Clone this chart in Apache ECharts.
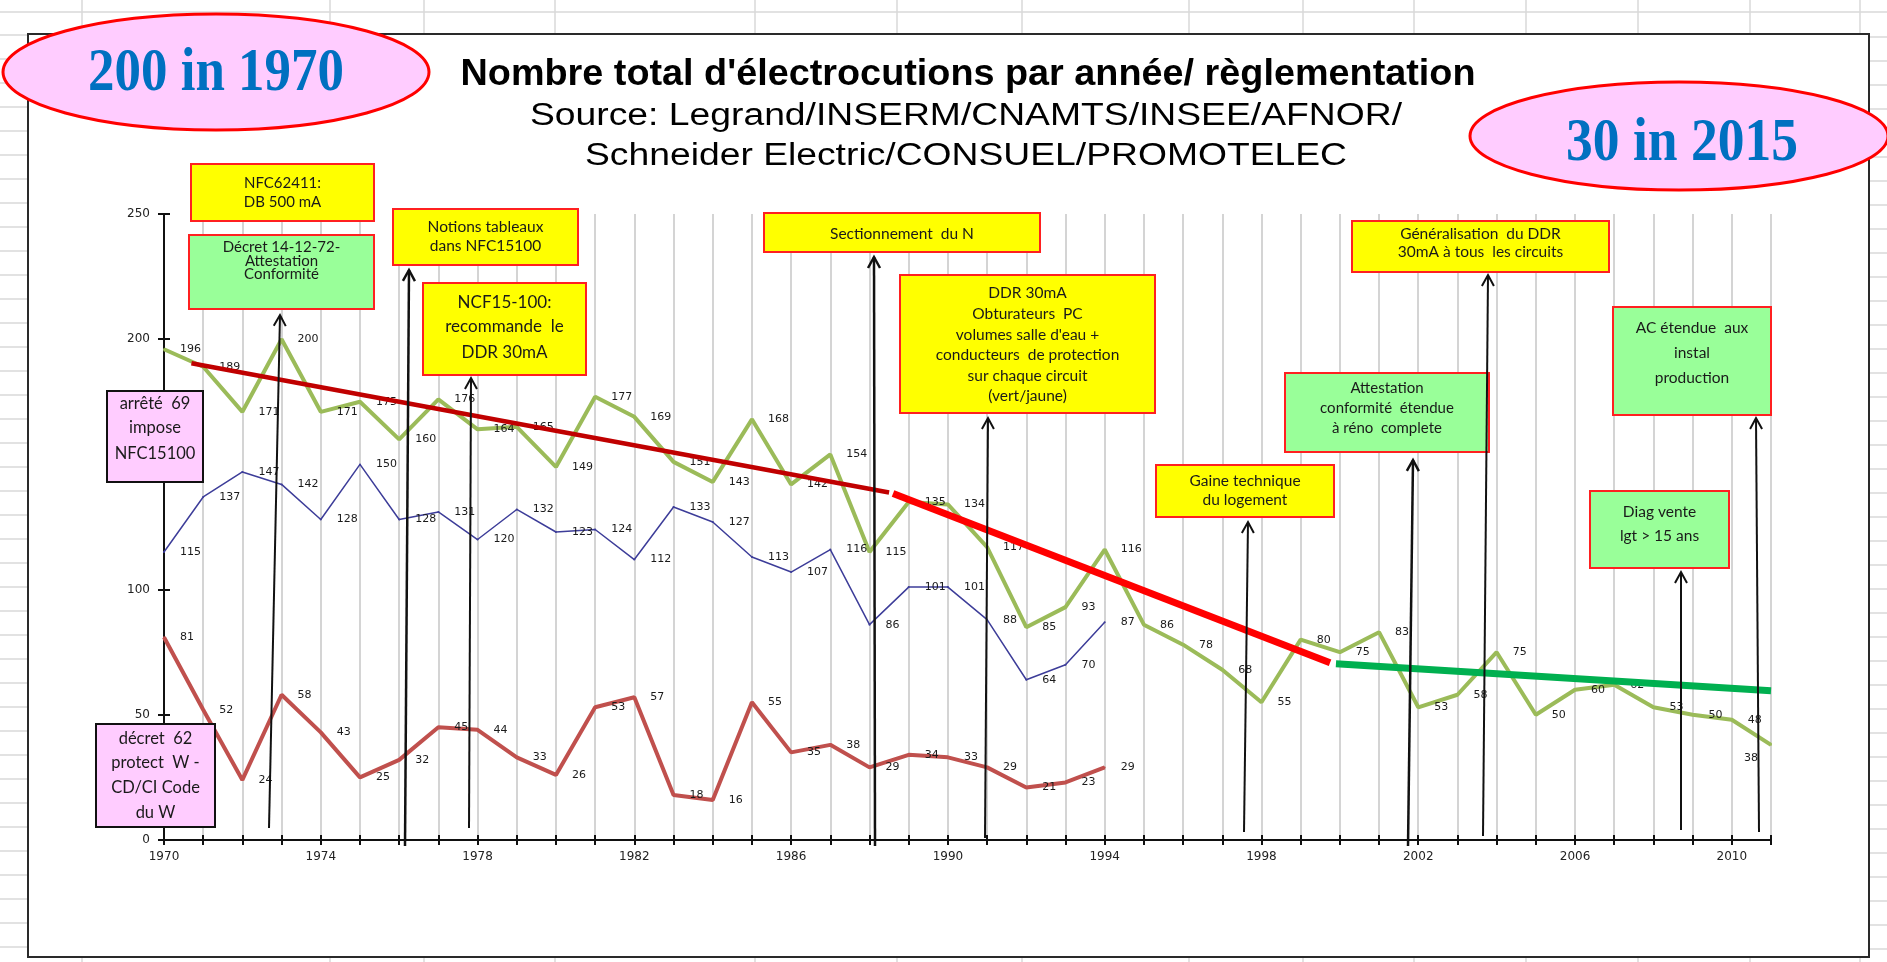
<!DOCTYPE html>
<html><head><meta charset="utf-8">
<script src="https://cdn.jsdelivr.net/npm/echarts@6/dist/echarts.min.js"></script>
<style>html,body{margin:0;padding:0;background:#fff}#c{width:1887px;height:962px}</style>
</head><body><div id="c"></div>
<script>
// ---------- DATA ----------
const years = [1970,1971,1972,1973,1974,1975,1976,1977,1978,1979,1980,1981,1982,1983,1984,1985,1986,1987,1988,1989,1990,1991,1992,1993,1994,1995,1996,1997,1998,1999,2000,2001,2002,2003,2004,2005,2006,2007,2008,2009,2010,2011];
const totalElectrocutions = [196,189,171,200,171,175,160,176,164,165,149,177,169,151,143,168,142,154,115,135,134,117,85,93,116,86,78,68,55,80,75,83,53,58,75,50,60,62,53,50,48,38];
const seriesBlue = [115,137,147,142,128,150,128,131,120,132,123,124,112,133,127,113,107,116,86,101,101,88,64,70,87];
const seriesRed = [81,52,24,58,43,25,32,45,44,33,26,53,57,18,16,55,35,38,29,34,33,29,21,23,29];
const trendOld = [[1970.7,190.4],[1988.5,138.8]];
const trendMid = [[1988.6,138.4],[1999.75,70.8]];
const trendNew = [[1999.9,70.4],[2011,59.6]];
const xLabelYears = [1970,1974,1978,1982,1986,1990,1994,1998,2002,2006,2010];
const yTicks = {min:0, max:250, interval:50};
const titleText = "Nombre total d'électrocutions par année/ règlementation";
const subtitle1 = "Source: Legrand/INSERM/CNAMTS/INSEE/AFNOR/";
const subtitle2 = "Schneider Electric/CONSUEL/PROMOTELEC";
const bubble1 = "200 in 1970";
const bubble2 = "30 in 2015";

// ---------- LAYOUT (annotations) ----------
const YEL='#ffff00', GRN='#99ff99', PNK='#ffccff';
const boxes = [
  {x:191,y:164,w:183,h:57,fill:YEL,stroke:'#ff2020',fs:15,lines:["NFC62411:","DB 500 mA"],ly:[183,202]},
  {x:189,y:235,w:185,h:74,fill:GRN,stroke:'#ff2020',fs:15,lines:["Décret 14-12-72-","Attestation","Conformité"],ly:[247,261,274]},
  {x:393,y:209,w:185,h:56,fill:YEL,stroke:'#ff2020',fs:15.5,lines:["Notions tableaux","dans NFC15100"],ly:[227,246]},
  {x:423,y:283,w:163,h:92,fill:YEL,stroke:'#ff2020',fs:17,lines:["NCF15-100:","recommande  le","DDR 30mA"],ly:[303,327,353]},
  {x:107,y:391,w:96,h:91,fill:PNK,stroke:'#111',fs:16.5,lines:["arrêté  69","impose","NFC15100"],ly:[404,428,454]},
  {x:96,y:724,w:119,h:103,fill:PNK,stroke:'#111',fs:16.5,lines:["décret  62","protect  W -","CD/CI Code","du W"],ly:[739,763,788,813]},
  {x:764,y:213,w:276,h:39,fill:YEL,stroke:'#ff2020',fs:15.5,lines:["Sectionnement  du N"],ly:[234]},
  {x:900,y:275,w:255,h:138,fill:YEL,stroke:'#ff2020',fs:15.5,lines:["DDR 30mA","Obturateurs  PC","volumes salle d'eau +","conducteurs  de protection","sur chaque circuit","(vert/jaune)"],ly:[293,314,335,355,376,396]},
  {x:1156,y:465,w:178,h:52,fill:YEL,stroke:'#ff2020',fs:15.5,lines:["Gaine technique","du logement"],ly:[481,500]},
  {x:1352,y:221,w:257,h:51,fill:YEL,stroke:'#ff2020',fs:15.5,lines:["Généralisation  du DDR","30mA à tous  les circuits"],ly:[234,252]},
  {x:1285,y:373,w:204,h:79,fill:GRN,stroke:'#ff2020',fs:15,lines:["Attestation","conformité  étendue","à réno  complete"],ly:[388,408,428]},
  {x:1613,y:307,w:158,h:108,fill:GRN,stroke:'#ff2020',fs:15.5,lines:["AC étendue  aux","instal","production"],ly:[328,353,378]},
  {x:1590,y:491,w:139,h:77,fill:GRN,stroke:'#ff2020',fs:15.5,lines:["Diag vente","lgt > 15 ans"],ly:[512,536]}
];
const arrows = [
  [269,828,280,315,2],[405,846,409,270,2.5],[469,828,471,378,2],[875,846,874,257,2.5],[985,838,988,418,2],
  [1244,832,1248,522,2],[1408,846,1413,460,2.5],[1483,836,1488,275,2],[1681,830,1681,572,2],[1759,832,1756,418,2]
];

// ---------- BUILD ----------
const mctx = document.createElement('canvas').getContext('2d');
function fitScale(weight, size, family, text, target){
  mctx.font = weight + ' ' + size + 'px ' + family;
  return target / mctx.measureText(text).width;
}
function txt(text, x, y, opts){
  const st = Object.assign({text:text, fill:'#111', align:'center', verticalAlign:'middle', textAlign:'center', textVerticalAlign:'middle'}, opts.style);
  const e = {type:'text', x:x, y:y, z:opts.z||20, silent:true, style:st};
  if (opts.scaleX) e.scaleX = opts.scaleX;
  if (opts.scaleY) e.scaleY = opts.scaleY;
  return e;
}
const G = [];
// spreadsheet background lines outside the frame
const sheetCol = '#d9d9d9';
G.push({type:'line', z:0, silent:true, shape:{x1:0,y1:12,x2:1887,y2:12}, style:{stroke:sheetCol,lineWidth:1.5}});
[82,330,424,555,755,897,1022,1189,1303,1414,1526,1638,1750,1860].forEach(x=>{
  G.push({type:'line', z:0, silent:true, shape:{x1:x,y1:0,x2:x,y2:33}, style:{stroke:sheetCol,lineWidth:1.5}});
  G.push({type:'line', z:0, silent:true, shape:{x1:x,y1:958,x2:x,y2:962}, style:{stroke:sheetCol,lineWidth:1.5}});
});
for (let y=37; y<957; y+=24){
  G.push({type:'line', z:0, silent:true, shape:{x1:1870,y1:y,x2:1887,y2:y}, style:{stroke:sheetCol,lineWidth:1.5}});
  G.push({type:'line', z:0, silent:true, shape:{x1:0,y1:y-2,x2:27,y2:y-2}, style:{stroke:sheetCol,lineWidth:1.5}});
}
// frame
G.push({type:'rect', z:1, silent:true, shape:{x:28,y:34,width:1841,height:923}, style:{fill:null, stroke:'#2a2a2a', lineWidth:2}});
// title
const tf = 'Liberation Sans';
G.push(txt(titleText, 968, 75, {scaleX: fitScale('bold',37,tf,titleText,1015), style:{fontSize:37,fontWeight:'bold',fontFamily:tf,fill:'#000'}}));
G.push(txt(subtitle1, 966, 116, {scaleX: fitScale('normal',31,tf,subtitle1,872), style:{fontSize:31,fontFamily:tf,fill:'#000'}}));
G.push(txt(subtitle2, 966, 156, {scaleX: fitScale('normal',31,tf,subtitle2,762), style:{fontSize:31,fontFamily:tf,fill:'#000'}}));
// bubbles
const sf = 'Liberation Serif';
G.push({type:'ellipse', z:12, silent:true, shape:{cx:216,cy:72,rx:213,ry:58}, style:{fill:PNK, stroke:'#ff0000', lineWidth:3}});
G.push(txt(bubble1, 216, 74, {z:13, scaleX: fitScale('bold',54,sf,bubble1,256), scaleY:1.12, style:{fontSize:54,fontWeight:'bold',fontFamily:sf,fill:'#0070c0'}}));
G.push({type:'ellipse', z:12, silent:true, shape:{cx:1679,cy:136,rx:209,ry:54}, style:{fill:PNK, stroke:'#ff0000', lineWidth:3}});
G.push(txt(bubble2, 1682, 144, {z:13, scaleX: fitScale('bold',54,sf,bubble2,232), scaleY:1.12, style:{fontSize:54,fontWeight:'bold',fontFamily:sf,fill:'#0070c0'}}));
// boxes
boxes.forEach(b=>{
  G.push({type:'rect', z:15, silent:true, shape:{x:b.x,y:b.y,width:b.w,height:b.h}, style:{fill:b.fill, stroke:b.stroke, lineWidth:2}});
  b.lines.forEach((l,i)=>{
    G.push(txt(l, b.x+b.w/2, b.ly[i], {z:16, style:{fontSize:b.fs, fontFamily:'Lato', fill:'#1a1a1a'}}));
  });
});
// arrows
arrows.forEach(a=>{
  const [x1,y1,x2,y2,w] = a;
  const dx=x2-x1, dy=y2-y1, L=Math.hypot(dx,dy), ux=dx/L, uy=dy/L, hl=11, hw=6;
  const bx=x2-ux*hl, by=y2-uy*hl, px=-uy, py=ux;
  G.push({type:'line', z:18, silent:true, shape:{x1,y1,x2,y2}, style:{stroke:'#111', lineWidth:w}});
  G.push({type:'polyline', z:18, silent:true, shape:{points:[[bx+px*hw,by+py*hw],[x2,y2],[bx-px*hw,by-py*hw]]}, style:{stroke:'#111', lineWidth:w, fill:null}});
});

function pairs(vals){ return vals.map((v,i)=>[years[i], v]); }
const lbl = {show:true, position:'right', distance:15, fontSize:11, fontFamily:'DejaVu Sans', color:'#1a1a1a'};
const greenData = pairs(totalElectrocutions).map((p,i,arr)=> i===arr.length-1 ? {value:p, label:{position:'left', distance:12, offset:[0,13]}} : p);

const axisCol = '#111';
const option = {
  animation:false,
  backgroundColor:'#ffffff',
  grid:{left:164, right:116, top:214, bottom:122, containLabel:false},
  xAxis:[
    {type:'value', min:years[0], max:years[years.length-1], interval:1, position:'bottom',
     axisLine:{show:true, onZero:false, lineStyle:{color:axisCol, width:2}},
     axisTick:{show:true, length:5, lineStyle:{color:axisCol, width:2}},
     axisLabel:{show:true, margin:11, fontSize:12, fontFamily:'DejaVu Sans', color:'#222', showMinLabel:true, showMaxLabel:true,
       formatter:v=> xLabelYears.indexOf(Math.round(v))>=0 ? String(Math.round(v)) : ''},
     splitLine:{show:true, lineStyle:{color:'#c6c6c6', width:1.5}}},
    {type:'value', min:years[0], max:years[years.length-1], interval:1, position:'bottom',
     axisLine:{show:false, onZero:false}, axisTick:{show:true, inside:true, length:5, lineStyle:{color:axisCol, width:2}},
     axisLabel:{show:false}, splitLine:{show:false}}
  ],
  yAxis:[
    {type:'value', min:yTicks.min, max:yTicks.max, interval:yTicks.interval, position:'left',
     axisLine:{show:true, onZero:false, lineStyle:{color:axisCol, width:2}},
     axisTick:{show:true, length:6, lineStyle:{color:axisCol, width:2}},
     axisLabel:{show:true, margin:14, fontSize:12, fontFamily:'DejaVu Sans', color:'#222'},
     splitLine:{show:false}},
    {type:'value', min:yTicks.min, max:yTicks.max, interval:yTicks.interval, position:'left',
     axisLine:{show:false, onZero:false}, axisTick:{show:true, inside:true, length:6, lineStyle:{color:axisCol, width:2}},
     axisLabel:{show:false}, splitLine:{show:false}}
  ],
  series:[
    {name:'Total', type:'line', xAxisIndex:0, yAxisIndex:0, data:greenData, z:3, symbol:'circle', symbolSize:2,
     itemStyle:{color:'#9bbb59'}, lineStyle:{color:'#9bbb59', width:4}, label:lbl},
    {name:'Série bleue', type:'line', xAxisIndex:0, yAxisIndex:0, data:pairs(seriesBlue), z:3, symbol:'circle', symbolSize:2,
     itemStyle:{color:'#3d3d99'}, lineStyle:{color:'#3d3d99', width:1.5}, label:lbl},
    {name:'Série rouge', type:'line', xAxisIndex:0, yAxisIndex:0, data:pairs(seriesRed), z:3, symbol:'circle', symbolSize:2,
     itemStyle:{color:'#c0504d'}, lineStyle:{color:'#c0504d', width:4}, label:lbl},
    {name:'Tendance 1', type:'line', data:trendOld, z:4, symbol:'none', lineStyle:{color:'#c00000', width:4.5}},
    {name:'Tendance 2', type:'line', data:trendMid, z:4, symbol:'none', lineStyle:{color:'#ff0000', width:7}},
    {name:'Tendance 3', type:'line', data:trendNew, z:4, symbol:'none', lineStyle:{color:'#00b050', width:7}}
  ],
  graphic:{elements:G}
};
const chart = echarts.init(document.getElementById('c'));
chart.setOption(option);
</script></body></html>
